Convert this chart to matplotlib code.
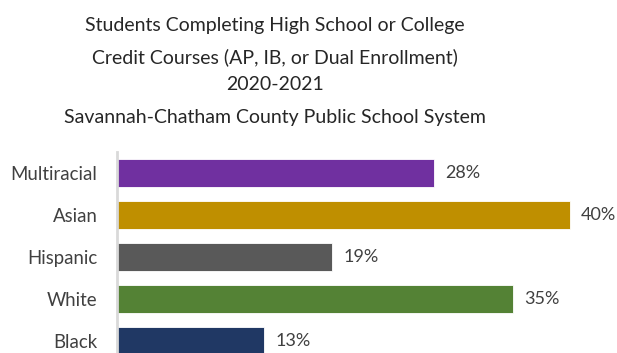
import matplotlib
matplotlib.use("Agg")
import matplotlib.pyplot as plt

groups = ["Multiracial", "Asian", "Hispanic", "White", "Black"]
percent = [28, 40, 19, 35, 13]
colors = ["#7030A0", "#BF8F00", "#595959", "#548235", "#203864"]
title_lines = [
    "Students Completing High School or College",
    "Credit Courses (AP, IB, or Dual Enrollment)",
    "2020-2021",
    "Savannah-Chatham County Public School System",
]

plt.rcParams["font.family"] = ["Lato", "DejaVu Sans"]

W, H = 617, 353
fig = plt.figure(figsize=(W / 100, H / 100), dpi=100)

# axes placed in pixel terms; the bottom band runs past the lower edge
x0, top, band = 117, 152, 42
xmax = 45
px_per = 11.32
ax_w = xmax * px_per
ax_h = band * len(groups)
ax = fig.add_axes([x0 / W, (H - top - ax_h) / H, ax_w / W, ax_h / H])

pos = list(range(len(groups)))
ax.barh(pos, percent, height=0.667, color=colors, edgecolor="white",
        linewidth=0.6)
ax.set_ylim(len(groups) - 0.5, -0.5)
ax.set_xlim(0, xmax)

for p, v in zip(pos, percent):
    ax.text(v + 11 / px_per, p, f"{v}%", va="center", ha="left",
            fontsize=13, color="#404040")

ax.set_yticks(pos)
ax.set_yticklabels(groups, fontsize=13.4, color="#404040")
ax.tick_params(axis="y", length=0, pad=14)
ax.set_xticks([])
for s in ["top", "right", "bottom"]:
    ax.spines[s].set_visible(False)
ax.spines["left"].set_color("#d9d9d9")
ax.spines["left"].set_linewidth(2)

line_y = [25, 57, 85, 117]
for t, y in zip(title_lines, line_y):
    fig.text(275 / W, 1 - y / H, t, ha="center", va="center",
             fontsize=14, color="#262626")

fig.savefig("out.png", dpi=100)
